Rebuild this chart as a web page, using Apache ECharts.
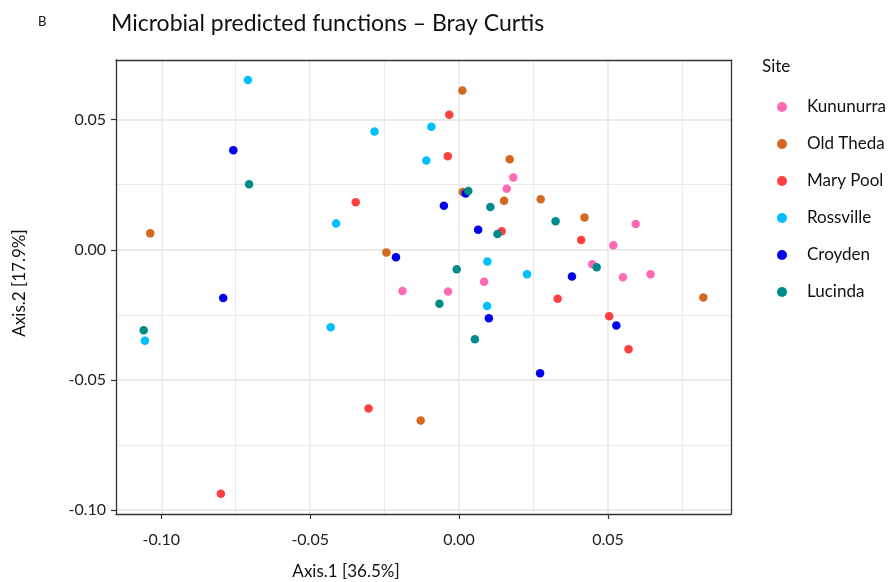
<!DOCTYPE html>
<html>
<head>
<meta charset="utf-8">
<script src="https://cdn.jsdelivr.net/npm/echarts@6/dist/echarts.min.js"></script>
<style>
  html, body { margin: 0; padding: 0; background: #fff; }
  #chart { width: 889px; height: 582px; }
</style>
</head>
<body>
<div id="chart"></div>
<script>
// PCoA ordination (Bray Curtis) of predicted microbial functions, by site
const sites = ['Kununurra', 'Old Theda', 'Mary Pool', 'Rossville', 'Croyden', 'Lucinda'];
const siteColors = ['#FF69B4', '#D2691E', '#FF4040', '#00BFFF', '#0000EE', '#008B8B'];

// [Axis.1, Axis.2] coordinates per sample
const kununurra = [[0.0182, 0.0278], [0.0160, 0.0234], [0.0084, -0.0123], [0.0593, 0.0099], [0.0518, 0.0017],
                   [0.0447, -0.0056], [0.0550, -0.0106], [0.0643, -0.0094], [-0.0190, -0.0158], [-0.0037, -0.0160]];
const oldTheda  = [[-0.1037, 0.0063], [0.0011, 0.0612], [0.0170, 0.0348], [0.0012, 0.0222], [0.0151, 0.0188],
                   [-0.0244, -0.0010], [0.0274, 0.0194], [0.0421, 0.0124], [0.0820, -0.0183], [-0.0129, -0.0656]];
const maryPool  = [[-0.0033, 0.0519], [-0.0038, 0.0359], [-0.0347, 0.0183], [0.0143, 0.0071], [0.0410, 0.0038],
                   [0.0331, -0.0188], [0.0504, -0.0255], [0.0569, -0.0382], [-0.0304, -0.0610], [-0.0800, -0.0937]];
const rossville = [[-0.0709, 0.0652], [-0.0093, 0.0473], [-0.0284, 0.0454], [-0.0110, 0.0343], [-0.0413, 0.0101],
                   [0.0095, -0.0045], [0.0228, -0.0094], [0.0094, -0.0216], [-0.0431, -0.0298], [-0.1055, -0.0349]];
const croyden   = [[-0.0758, 0.0382], [0.0022, 0.0216], [-0.0051, 0.0169], [0.0064, 0.0077], [-0.0212, -0.0029],
                   [0.0379, -0.0103], [0.0528, -0.0291], [0.0272, -0.0474], [0.0100, -0.0263], [-0.0792, -0.0185]];
const lucinda   = [[-0.0705, 0.0252], [0.0031, 0.0226], [0.0105, 0.0164], [0.0129, 0.0061], [-0.0008, -0.0075],
                   [0.0324, 0.0110], [0.0462, -0.0067], [-0.0066, -0.0207], [0.0053, -0.0344], [-0.1059, -0.0309]];
const siteData = [kununurra, oldTheda, maryPool, rossville, croyden, lucinda];

// axis extents and tick positions
const xRange = [-0.1152, 0.0913];
const yRange = [-0.1015, 0.0729];
const xTicks = [-0.10, -0.05, 0.00, 0.05];
const yTicks = [-0.10, -0.05, 0.00, 0.05];
const xMinor = [-0.075, -0.025, 0.025, 0.075];
const yMinor = [-0.075, -0.025, 0.025];

const FONT = 'Lato, "Open Sans", sans-serif';
const INK = '#222';
const GRID = '#EBEBEB';
const fmt = v => (Math.abs(v) < 1e-9 ? 0 : v).toFixed(2);

function majorAxis(range, ticks, extra) {
  return Object.assign({
    type: 'value',
    min: range[0],
    max: range[1],
    axisLine: { show: true, onZero: false, lineStyle: { color: '#333', width: 1.3 } },
    axisTick: { show: true, length: 5, customValues: ticks, lineStyle: { color: '#333', width: 1.2 } },
    axisLabel: { customValues: ticks, formatter: fmt, fontFamily: FONT, fontSize: 16, color: INK },
    splitLine: { show: true, lineStyle: { color: GRID, width: 1.8 } }
  }, extra);
}
// companion axis on the opposite side: draws the panel border and the minor grid
function minorAxis(range, ticks, extra) {
  return Object.assign({
    type: 'value',
    min: range[0],
    max: range[1],
    axisLine: { show: true, onZero: false, lineStyle: { color: '#333', width: 1.3 } },
    axisTick: { show: false, customValues: ticks },
    axisLabel: { show: false, customValues: ticks },
    splitLine: { show: true, lineStyle: { color: GRID, width: 1 } }
  }, extra);
}

const chart = echarts.init(document.getElementById('chart'), null, { renderer: 'canvas' });

const xMain = majorAxis(xRange, xTicks, { position: 'bottom' });
xMain.axisLabel.margin = 18;
const yMain = majorAxis(yRange, yTicks, { position: 'left' });
yMain.axisLabel.margin = 10;

chart.setOption({
  animation: false,
  backgroundColor: '#fff',
  title: {
    text: 'Microbial predicted functions \u2013 Bray Curtis',
    left: 111, top: 10, padding: 0,
    textStyle: { fontFamily: FONT, fontSize: 23, fontWeight: 'normal', color: '#111', lineHeight: 27 }
  },
  grid: { left: 116, top: 60, right: 158, bottom: 68, containLabel: false },
  xAxis: [xMain, minorAxis(xRange, xMinor, { position: 'top' })],
  yAxis: [yMain, minorAxis(yRange, yMinor, { position: 'right' })],
  legend: {
    orient: 'vertical',
    left: 772, top: 92,
    icon: 'circle',
    itemWidth: 10, itemHeight: 10,
    itemGap: 17,
    data: sites,
    textStyle: { fontFamily: FONT, fontSize: 17, color: '#111', lineHeight: 20, padding: [0, 0, 0, 15] }
  },
  graphic: [
    { type: 'text', left: 38, top: 15, style: { text: 'B', font: '13px ' + FONT, fill: '#111' } },
    { type: 'text', left: 762, top: 58, style: { text: 'Site', font: '17px ' + FONT, fill: '#111' } },
    { type: 'text', x: 346, y: 572, style: { text: 'Axis.1 [36.5%]', font: '17px ' + FONT, fill: '#111', align: 'center', verticalAlign: 'middle' } },
    { type: 'text', x: 20, y: 283, rotation: Math.PI / 2, style: { text: 'Axis.2 [17.9%]', font: '17px ' + FONT, fill: '#111', align: 'center', verticalAlign: 'middle' } }
  ],
  series: sites.map((name, i) => ({
    name: name,
    type: 'scatter',
    xAxisIndex: 0,
    yAxisIndex: 0,
    data: siteData[i],
    symbol: 'circle',
    symbolSize: 8.5,
    itemStyle: { color: siteColors[i], opacity: 1 },
    emphasis: { disabled: true }
  }))
});
</script>
</body>
</html>
